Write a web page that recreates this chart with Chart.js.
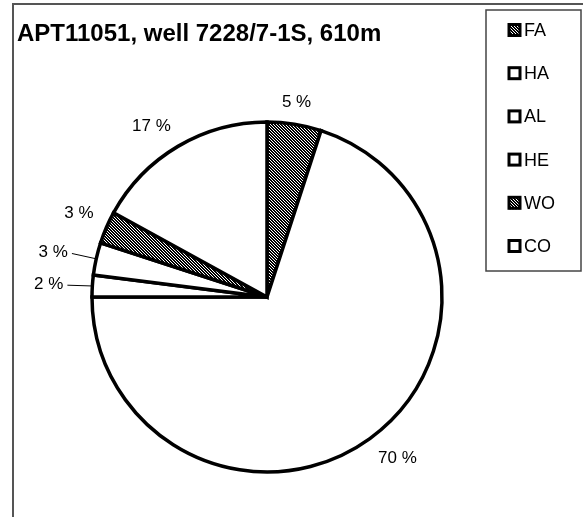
<!DOCTYPE html>
<html>
<head>
<meta charset="utf-8">
<script src="https://cdn.jsdelivr.net/npm/chart.js@4"></script>
<style>
  html, body { margin: 0; padding: 0; background: #fff; }
  #wrap { width: 583px; height: 517px; position: relative; }
</style>
</head>
<body>
<div id="wrap"><canvas id="pieChart" width="583" height="517"></canvas></div>
<script>
const chartTitle = "APT11051, well 7228/7-1S, 610m";
const categories = ["FA", "HA", "AL", "HE", "WO", "CO"];
const percentages = [5, 70, 2, 3, 3, 17];

// which slices get the hatch fill, and which labels sit out on a leader line
const hatched = new Set(["FA", "WO"]);
const leadered = new Set(["AL", "HE"]);

const FONT = '"Liberation Sans", Arial, sans-serif';

// dense diagonal hatch, like the old spreadsheet pattern fill
function makeHatch() {
  const n = 3;
  const tile = document.createElement("canvas");
  tile.width = n;
  tile.height = n;
  const t = tile.getContext("2d");
  t.fillStyle = "#fff";
  t.fillRect(0, 0, n, n);
  t.fillStyle = "#000";
  for (let x = 0; x < n; x++) {
    for (let y = 0; y < n; y++) {
      const k = ((x - y) % n + n) % n;
      if (k !== 2) t.fillRect(x, y, 1, 1);
    }
  }
  return tile;
}

const canvas = document.getElementById("pieChart");
const hatch = canvas.getContext("2d").createPattern(makeHatch(), "repeat");
const fills = categories.map((c) => (hatched.has(c) ? hatch : "#fff"));

// frame, title and legend box
const framePlugin = {
  id: "frame",
  afterDraw(chart) {
    const ctx = chart.ctx;
    ctx.save();
    ctx.strokeStyle = "#555";
    ctx.lineWidth = 2;
    ctx.beginPath();
    ctx.moveTo(13, 517);
    ctx.lineTo(13, 4);
    ctx.lineTo(583, 4);
    ctx.stroke();

    ctx.fillStyle = "#000";
    ctx.font = "bold 24px " + FONT;
    ctx.textAlign = "left";
    ctx.textBaseline = "alphabetic";
    ctx.fillText(chartTitle, 17, 41);

    // legend
    ctx.strokeStyle = "#444";
    ctx.lineWidth = 1.5;
    ctx.fillStyle = "#fff";
    ctx.fillRect(486, 10, 95, 261);
    ctx.strokeRect(486, 10, 95, 261);

    ctx.font = "18px " + FONT;
    ctx.textBaseline = "middle";
    categories.forEach((c, i) => {
      const y = 30 + i * 43.2;
      ctx.fillStyle = fills[i];
      ctx.fillRect(508, y - 6.5, 13, 13);
      ctx.strokeStyle = "#000";
      ctx.lineWidth = 3;
      ctx.strokeRect(509, y - 5.5, 11, 11);
      ctx.fillStyle = "#000";
      ctx.fillText(c, 524, y + 1);
    });
    ctx.restore();
  }
};

// percentage labels outside the pie
const labelPlugin = {
  id: "sliceLabels",
  afterDatasetsDraw(chart) {
    const ctx = chart.ctx;
    const meta = chart.getDatasetMeta(0);
    ctx.save();
    ctx.font = "17px " + FONT;
    ctx.fillStyle = "#000";
    meta.data.forEach((arc, i) => {
      const { x, y, startAngle, endAngle, outerRadius } = arc.getProps(
        ["x", "y", "startAngle", "endAngle", "outerRadius"], true);
      const mid = (startAngle + endAngle) / 2;
      const hx = Math.cos(mid);
      const vy = Math.sin(mid);
      const leader = leadered.has(categories[i]);
      const r = outerRadius + (leader ? 29 : 14);
      const px = x + hx * r;
      const py = y + vy * r;
      ctx.textAlign = hx > 0.3 ? "left" : hx < -0.3 ? "right" : "center";
      ctx.textBaseline = vy < -0.3 ? "bottom" : vy > 0.3 ? "top" : "middle";
      ctx.fillText(percentages[i] + " %", px, py);
      if (leader) {
        ctx.strokeStyle = "#000";
        ctx.lineWidth = 1;
        ctx.beginPath();
        ctx.moveTo(px + 4, py + 1);
        ctx.lineTo(x + hx * (outerRadius + 1), y + vy * (outerRadius + 1));
        ctx.stroke();
      }
    });
    ctx.restore();
  }
};

new Chart(canvas, {
  type: "pie",
  data: {
    labels: categories,
    datasets: [{
      data: percentages,
      backgroundColor: fills,
      borderColor: "#000",
      borderWidth: 3.5,
      borderJoinStyle: "miter",
      radius: 175
    }]
  },
  options: {
    responsive: false,
    animation: false,
    layout: { padding: { left: 91, top: 121, right: 140, bottom: 44 } },
    plugins: {
      legend: { display: false },
      tooltip: { enabled: false },
      title: { display: false }
    }
  },
  plugins: [labelPlugin, framePlugin]
});
</script>
</body>
</html>
